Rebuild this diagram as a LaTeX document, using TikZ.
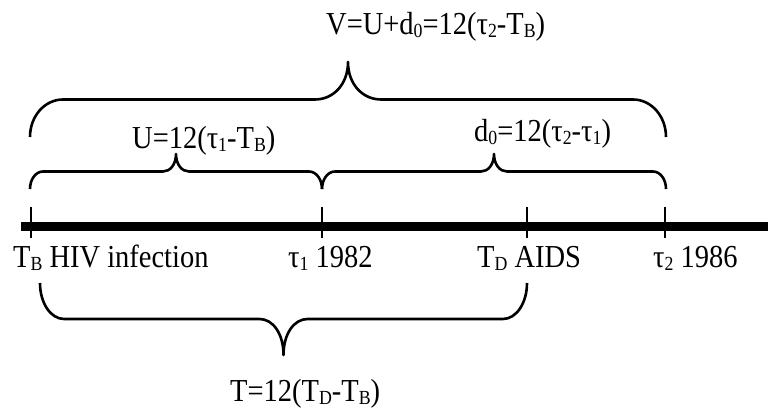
\documentclass[tikz,border=0pt]{standalone}
\usepackage{fontspec}
\setmainfont{Liberation Serif}[FakeStretch=0.89]
\usepackage{tikz}
\usetikzlibrary{calc}
% small lowered index, as in T_B
\newcommand{\lowsub}[1]{\raisebox{-3pt}{\fontsize{20}{20}\selectfont #1}}
% curly brace between two named points: #3 = end width, #4 = height (signed)
\newcommand{\spanbrace}[4]{%
  \draw[brace line] let \p1=(#1), \p2=(#2), \n1={#3}, \n2={#4},
    \n3={0.5*(\x1+\x2)} in
    (\p1) .. controls +(0,0.28*\n2) and +(-0.55*\n1,0) .. (\x1+\n1,\y1+0.5*\n2)
    -- (\n3-\n1,\y1+0.5*\n2)
    .. controls +(0.55*\n1,0) and +(0,-0.3*\n2) .. (\n3,\y1+\n2)
    .. controls +(0,-0.3*\n2) and +(-0.55*\n1,0) .. (\n3+\n1,\y1+0.5*\n2)
    -- (\x2-\n1,\y1+0.5*\n2)
    .. controls +(0.55*\n1,0) and +(0,0.28*\n2) .. (\p2);}

\begin{document}
\begin{tikzpicture}[x=1pt, y=1pt,
  lbl/.style={font=\fontsize{32}{36}\selectfont, inner sep=0pt,
    anchor=base west},
  axis line/.style={line width=9pt},
  tick/.style={line width=2pt},
  brace line/.style={line width=2.6pt, line join=round}
]
\useasboundingbox (0,0) rectangle (768,412);

% Time axis
\coordinate (start) at (21,185);
\coordinate (stop) at (768,185);
\draw[axis line] (start) -- (stop);

% Ticks
\coordinate (tB) at (30.5,185);
\coordinate (t1) at (322,185);
\coordinate (tD) at (527,185);
\coordinate (t2) at (665,185);
\foreach \t in {tB,t1,tD,t2}
  \draw[tick] ($(\t)+(0,20)$) -- ($(\t)+(0,-11)$);

% Events
\node[lbl] (infect) at (13,144) {T\lowsub{B} HIV infection};
\node[lbl] (y82) at (288,144) {τ\lowsub{1} 1982};
\node[lbl] (aids) at (477,144) {T\lowsub{D} AIDS};
\node[lbl] (y86) at (653,144) {τ\lowsub{2} 1986};

% Braces above
\coordinate (vL) at (30,275);
\coordinate (vR) at (666,275);
\spanbrace{vL}{vR}{33}{75}
\node[lbl] (V) at (326,377) {V=U+d\lowsub{0}=12(τ\lowsub{2}-T\lowsub{B})};

\coordinate (uL) at (30,223);
\coordinate (uR) at (322,223);
\coordinate (dR) at (666,223);
\spanbrace{uL}{uR}{13}{35}
\spanbrace{uR}{dR}{13}{35}
\node[lbl] (U) at (132,263) {U=12(τ\lowsub{1}-T\lowsub{B})};
\node[lbl] (d0) at (474,270) {d\lowsub{0}=12(τ\lowsub{2}-τ\lowsub{1})};

% Brace below
\coordinate (tL) at (40,129);
\coordinate (tR) at (527,129);
\spanbrace{tL}{tR}{24}{-72}
\node[lbl] (T) at (230,10) {T=12(T\lowsub{D}-T\lowsub{B})};

\end{tikzpicture}
\end{document}
